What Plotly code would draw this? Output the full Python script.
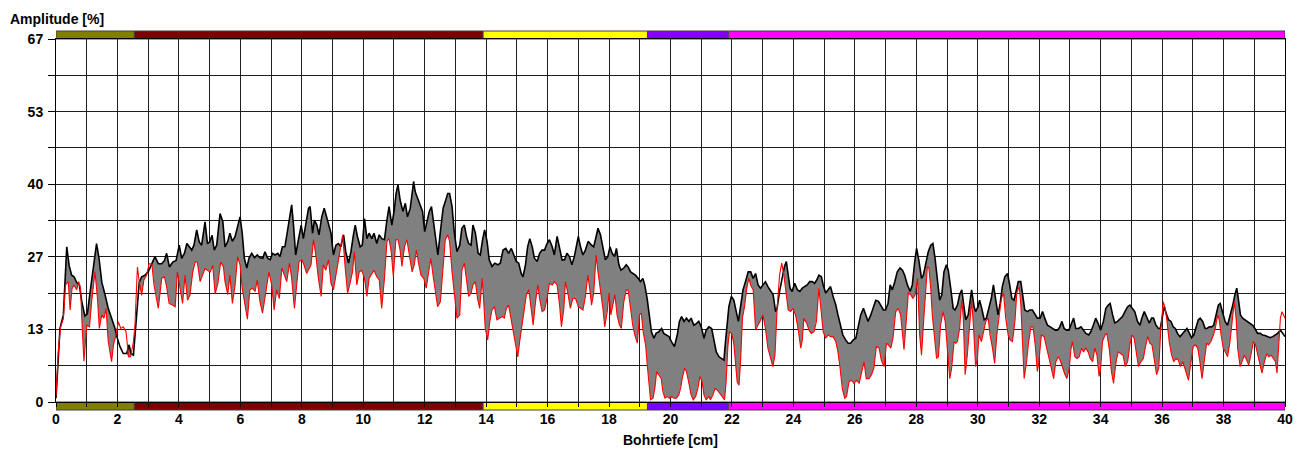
import numpy as np
import plotly.graph_objects as go

# ---------------- data ----------------
# upper curve (black)
black_x = [0, 0.13, 0.24, 0.29, 0.35, 0.43, 0.51, 0.59, 0.67, 0.76, 0.84, 0.94, 1.02, 1.11, 1.19, 1.27, 1.32, 1.40, 1.49, 1.60, 1.70, 1.81, 1.92, 1.98, 2.08, 2.19, 2.30, 2.38, 2.44, 2.52, 2.58, 2.65, 2.71, 2.79, 2.90, 3.01, 3.12, 3.22, 3.33, 3.44, 3.53, 3.60, 3.69, 3.80, 3.91, 4.01, 4.09, 4.18, 4.26, 4.34, 4.42, 4.49, 4.58, 4.66, 4.74, 4.85, 4.93, 5.0, 5.08, 5.15, 5.23, 5.34, 5.43,
           5.50, 5.59, 5.66, 5.74, 5.83, 5.91, 5.99, 6.06, 6.13, 6.21, 6.28, 6.37, 6.46, 6.55, 6.64, 6.73, 6.80, 6.89, 6.97, 7.05, 7.13, 7.22, 7.29, 7.37, 7.45, 7.54, 7.62, 7.67, 7.73, 7.80, 7.89, 7.98, 8.05, 8.13, 8.22, 8.27, 8.35, 8.41, 8.49, 8.56, 8.65, 8.73, 8.79, 8.87, 8.95, 9.03, 9.11, 9.19, 9.27, 9.36, 9.43, 9.52, 9.60, 9.68, 9.74, 9.81, 9.90, 9.97, 10.04, 10.12, 10.19, 10.28, 10.35, 10.44, 10.52, 10.60, 10.69, 10.77, 10.84, 10.93, 11.01, 11.07, 11.13,
           11.2, 11.29, 11.37, 11.44, 11.53, 11.58, 11.64, 11.69, 11.77, 11.86, 11.93, 12.0, 12.07, 12.15, 12.22, 12.29, 12.37, 12.43, 12.51, 12.6, 12.67, 12.75, 12.81, 12.89, 12.96, 13.05, 13.14, 13.21, 13.29, 13.36, 13.43, 13.51, 13.57, 13.65, 13.74, 13.81, 13.89, 13.95, 14.03, 14.1, 14.19, 14.28, 14.38, 14.46, 14.55, 14.64, 14.73, 14.82, 14.9, 14.98, 15.06, 15.14, 15.2, 15.28, 15.35, 15.42, 15.5, 15.57, 15.66, 15.74, 15.82, 15.9, 15.98, 16.06, 16.15, 16.22, 16.31, 16.39, 16.47, 16.55, 16.63, 16.71, 16.79, 16.87,
           16.95, 17.0, 17.07, 17.15, 17.23, 17.32, 17.43, 17.5, 17.58, 17.64, 17.72, 17.8, 17.88, 17.96, 18.03, 18.1, 18.18, 18.24, 18.32, 18.39, 18.48, 18.56, 18.62, 18.7, 18.79, 18.86, 18.95, 19.02, 19.1, 19.16, 19.24, 19.32, 19.38, 19.46, 19.53, 19.62, 19.71, 19.78, 19.86, 19.95, 20.03, 20.13, 20.22, 20.29, 20.36, 20.44, 20.52, 20.6, 20.67, 20.76, 20.84, 20.92, 21.0, 21.09, 21.16, 21.25, 21.34, 21.41, 21.49, 21.58, 21.66, 21.74, 21.79, 21.85, 21.9, 21.98, 22.06, 22.14, 22.21, 22.28, 22.36, 22.44, 22.53,
           22.61, 22.69, 22.77, 22.85, 22.93, 23.02, 23.09, 23.17, 23.26, 23.34, 23.42, 23.47, 23.55, 23.64, 23.71, 23.77, 23.82, 23.89, 23.96, 24.04, 24.13, 24.21, 24.29, 24.37, 24.45, 24.53, 24.61, 24.69, 24.76, 24.83, 24.91, 24.97, 25.05, 25.13, 25.21, 25.29, 25.38, 25.45, 25.54, 25.61, 25.7, 25.78, 25.86, 25.95, 26.03, 26.1, 26.19, 26.28, 26.35, 26.43, 26.52, 26.6, 26.68, 26.77, 26.84, 26.93, 27.0, 27.08, 27.15, 27.22, 27.3, 27.38, 27.47, 27.55, 27.62, 27.71, 27.8, 27.87, 27.95, 28.01, 28.09, 28.17, 28.23,
           28.31, 28.39, 28.47, 28.54, 28.61, 28.69, 28.76, 28.83, 28.9, 28.98, 29.04, 29.12, 29.2, 29.26, 29.34, 29.41, 29.48, 29.53, 29.61, 29.69, 29.75, 29.8, 29.88, 29.93, 30.01, 30.06, 30.13, 30.21, 30.28, 30.37, 30.44, 30.51, 30.59, 30.66, 30.73, 30.8, 30.88, 30.97, 31.04, 31.11, 31.18, 31.26, 31.32, 31.4, 31.46, 31.53, 31.62, 31.69, 31.78, 31.87, 31.94, 32.03, 32.11, 32.18, 32.27, 32.36, 32.43, 32.52, 32.6, 32.67, 32.74, 32.81, 32.89, 32.97, 33.05, 33.12, 33.19, 33.28, 33.36, 33.43, 33.52, 33.61, 33.68, 33.76, 33.84, 33.92,
           34.0, 34.09, 34.17, 34.25, 34.31, 34.39, 34.46, 34.55, 34.64, 34.71, 34.79, 34.88, 34.95, 35.04, 35.11, 35.2, 35.28, 35.34, 35.42, 35.49, 35.58, 35.66, 35.72, 35.8, 35.88, 35.94, 36.02, 36.07, 36.15, 36.21, 36.29, 36.36, 36.43, 36.5, 36.58, 36.67, 36.74, 36.81, 36.89, 36.96, 37.03, 37.1, 37.18, 37.24, 37.32, 37.4, 37.46, 37.54, 37.61, 37.68, 37.75, 37.83, 37.89, 37.97, 38.05, 38.13, 38.22, 38.3, 38.37, 38.43, 38.48, 38.55, 38.62, 38.7, 38.79, 38.86, 38.95, 39.02, 39.11, 39.2, 39.27, 39.35, 39.44, 39.52, 39.6, 39.68, 39.76, 39.85, 39.93, 40.0]
black_y = [0.7, 13.5, 16, 21.5, 28.5, 25, 23.3, 23, 22, 21.5, 18.4, 15.8, 16.2, 20.2, 24, 27, 29.1, 26.4, 22, 19.6, 17.2, 15.4, 13.5, 12.0, 10.2, 8.9, 8.9, 10.5, 8.9, 8.6, 12.9, 18.4, 22, 23, 23.3, 24, 25.4, 26.7, 25.4, 25.4, 26, 27.3, 24.8, 25.7, 26, 28.8, 26.4, 27.3, 29.1, 28.5, 27.9, 28.8, 31.6, 29.4, 28.8, 33.1, 29.1, 29.4, 30.6, 27.9, 28.8, 34.6, 33.1,
           28.5, 29.5, 31, 29.5, 30.4, 32.2, 34, 31, 26.4, 24.6, 26.4, 27.3, 26.5, 27, 26.5, 26.4, 27.6, 26.4, 26.1, 27.3, 27, 27.3, 26.7, 28.5, 28.5, 31.6, 35, 36.2, 32.5, 27, 29.8, 32.5, 30, 32.8, 35.6, 35.9, 31, 33.4, 32.5, 30.7, 34, 35.6, 34.4, 32.5, 31, 27, 28.8, 29.1, 28.5, 30.7, 27.6, 25.5, 27.6, 30.7, 32.5, 30.4, 28.5, 28.8, 33.7, 30, 31, 30, 31, 29.1, 30.7, 30, 29.8, 33.4, 35.9, 32.5, 35.3, 38.3, 39.9,
           37.1, 35, 36.5, 34, 35.6, 38, 40.5, 38.6, 37.4, 36.2, 35, 31.3, 33.1, 35, 35.9, 33.1, 29.5, 27, 31.3, 35.6, 36.8, 38.3, 38.3, 35.9, 31.3, 27.6, 28.8, 31.9, 32.5, 30.4, 29.1, 28.8, 32.5, 31, 27.3, 27, 30, 31.6, 29.5, 26.1, 24.9, 25.5, 25.2, 25.5, 27.9, 28.2, 27.3, 28.2, 27, 25.8, 25.5, 23.6, 23, 25.2, 28.5, 30, 28.5, 26.4, 25.8, 27.3, 27.9, 27.9, 29.1, 29.8, 28.5, 27, 30.4, 28.5, 26.1, 26.1, 27.3, 26.7, 25.2, 26.7,
           29.5, 30.4, 28.5, 27, 27.9, 29.5, 28.8, 28.5, 30.4, 31.9, 30.7, 28.5, 26.1, 26.7, 28.5, 27.3, 26.7, 28.2, 25.2, 24.2, 24.6, 25.2, 24.8, 23.9, 23.6, 23.3, 22.7, 22.1, 22.7, 21.5, 19, 16, 12.9, 11.7, 12.6, 12.9, 13.5, 12.6, 12.3, 12, 11.1, 10.2, 12.3, 14.8, 15.7, 14.8, 15.4, 14.8, 15.4, 14.1, 14.4, 14.8, 13.8, 11.7, 13.2, 13.8, 13.5, 11.1, 9.2, 8.3, 8, 7.7, 11.1, 14.8, 17.5, 19.4, 18.7, 16.6, 14.8, 17.5, 20.6, 22.1, 23.9,
           23.9, 22.7, 23.6, 21.5, 20.9, 21.5, 22.1, 21.2, 20.3, 19.7, 16.6, 17.2, 20.3, 23.3, 24.9, 25.8, 23.3, 20.9, 20.3, 21.8, 20.6, 20.3, 20.9, 21.2, 21.5, 22.1, 22.1, 21.8, 22.4, 23.3, 23, 21.5, 20, 20.6, 21.2, 19.4, 17.8, 16, 14.1, 12.3, 11.4, 10.8, 10.8, 11.4, 11.7, 13.5, 16, 17.2, 16, 14.8, 16, 17.5, 18.7, 18.5, 17.8, 16.9, 16.9, 18.1, 21.5, 20.6, 22.1, 23.9, 24.6, 24.2, 23.3, 21.5, 20.3, 21.5, 25.8, 28.2, 25.8, 22.7, 23.3,
           25.2, 27.6, 28.8, 29.1, 26.4, 22.1, 18.7, 19.7, 23.9, 25.2, 24.2, 20.9, 17.2, 16.9, 17.8, 19.7, 20.6, 18.4, 15.1, 16, 19, 20.6, 17.5, 16.6, 17.5, 18.7, 17.2, 15.1, 15.4, 17.2, 19, 21.5, 18.7, 16, 18.1, 21.2, 23, 23.6, 21.5, 19, 18.7, 20.9, 22.1, 22.1, 19.7, 16.9, 16.6, 16.9, 16.9, 16, 15.4, 15.4, 16.6, 15.4, 14.1, 13.8, 13.5, 13.2, 13.2, 13.8, 14.8, 13.5, 13.2, 13.2, 14.4, 15.4, 13.5, 13.5, 13.8, 13.2, 12.6, 12.3, 12.9, 14.1, 15.4, 14.4,
           13.2, 14.8, 17.2, 17.8, 18.1, 16, 14.5, 14.8, 15.4, 15.7, 16.6, 17.5, 17.8, 17.2, 16.6, 14.8, 14.1, 15.4, 16.6, 15.7, 14.5, 15.4, 15.4, 14.1, 13.5, 13.5, 16.5, 17.5, 16, 15.1, 14.8, 13.8, 13.5, 12.6, 12, 12.6, 13.2, 13.5, 12.6, 11.8, 12.3, 13.8, 15.1, 15.4, 14.8, 13.5, 13.5, 13.8, 13.8, 14.1, 16, 17.8, 18.1, 16.6, 14.8, 14.1, 16, 17.8, 19.7, 20.9, 19, 16, 15.4, 15.1, 14.8, 14.5, 14.1, 13.5, 12.6, 12.6, 12.3, 12.2, 12, 11.8, 12, 12.3, 12.6, 13.2, 12.6, 12]

# lower curve (red)
red_x = [0, 0.08, 0.15, 0.24, 0.31, 0.40, 0.46, 0.52, 0.59, 0.67, 0.74, 0.80, 0.86, 0.91, 1.0, 1.09, 1.16, 1.27, 1.35, 1.41, 1.49, 1.56, 1.63, 1.70, 1.81, 1.87, 1.95, 2.03, 2.11, 2.19, 2.28, 2.36, 2.43, 2.52, 2.57, 2.65, 2.71, 2.79, 2.86, 2.95, 3.03, 3.12, 3.19, 3.26, 3.33, 3.44, 3.53, 3.60, 3.68, 3.79, 3.88, 3.95, 4.04, 4.12, 4.20, 4.28, 4.36, 4.45, 4.53, 4.60, 4.69, 4.78, 4.85, 4.93, 5.02, 5.10, 5.18, 5.27, 5.36, 5.45,
         5.50, 5.59, 5.66, 5.74, 5.83, 5.91, 5.99, 6.06, 6.15, 6.23, 6.31, 6.39, 6.48, 6.55, 6.64, 6.72, 6.78, 6.86, 6.93, 7.02, 7.10, 7.18, 7.27, 7.35, 7.43, 7.51, 7.60, 7.67, 7.76, 7.84, 7.91, 8.00, 8.07, 8.16, 8.24, 8.30, 8.38, 8.45, 8.54, 8.63, 8.70, 8.78, 8.87, 8.95, 9.03, 9.11, 9.19, 9.27, 9.33, 9.41, 9.49, 9.57, 9.65, 9.71, 9.79, 9.87, 9.95, 10.04, 10.12, 10.19, 10.28, 10.35, 10.44, 10.52, 10.60, 10.69, 10.77, 10.84, 10.91, 10.98, 11.06, 11.13,
         11.2, 11.26, 11.34, 11.42, 11.5, 11.59, 11.66, 11.73, 11.8, 11.88, 11.97, 12.05, 12.13, 12.2, 12.27, 12.35, 12.42, 12.51, 12.6, 12.67, 12.75, 12.81, 12.89, 12.96, 13.05, 13.14, 13.21, 13.29, 13.36, 13.43, 13.51, 13.57, 13.65, 13.72, 13.79, 13.87, 13.92, 13.97, 14.05, 14.12, 14.19, 14.27, 14.35, 14.43, 14.52, 14.59, 14.66, 14.73, 14.82, 14.9, 14.97, 15.03, 15.09, 15.17, 15.25, 15.31, 15.39, 15.46, 15.53, 15.6, 15.68, 15.74, 15.82, 15.9, 15.98, 16.06, 16.15, 16.22, 16.31, 16.39, 16.45, 16.53, 16.58, 16.66, 16.74, 16.82,
         16.91, 17.0, 17.07, 17.15, 17.23, 17.31, 17.37, 17.43, 17.5, 17.58, 17.64, 17.72, 17.8, 17.86, 17.94, 18.0, 18.06, 18.12, 18.19, 18.26, 18.34, 18.4, 18.48, 18.56, 18.62, 18.7, 18.77, 18.84, 18.92, 18.99, 19.05, 19.11, 19.19, 19.24, 19.3, 19.35, 19.43, 19.49, 19.55, 19.62, 19.7, 19.75, 19.82, 19.89, 19.97, 20.03, 20.11, 20.19, 20.27, 20.33, 20.38, 20.46, 20.52, 20.6, 20.67, 20.74, 20.82, 20.89, 20.96, 21.03, 21.09, 21.16, 21.25, 21.3, 21.38, 21.45, 21.52, 21.6, 21.68, 21.76, 21.81, 21.87, 21.92, 21.99, 22.06, 22.12, 22.17, 22.23, 22.28, 22.34, 22.41, 22.48, 22.55,
         22.61, 22.69, 22.77, 22.85, 22.93, 23.01, 23.09, 23.17, 23.26, 23.33, 23.4, 23.47, 23.55, 23.62, 23.69, 23.77, 23.83, 23.91, 23.98, 24.07, 24.15, 24.24, 24.29, 24.34, 24.43, 24.51, 24.58, 24.67, 24.75, 24.83, 24.91, 24.97, 25.05, 25.13, 25.21, 25.29, 25.38, 25.45, 25.52, 25.59, 25.67, 25.73, 25.81, 25.89, 25.97, 26.06, 26.14, 26.21, 26.3, 26.37, 26.46, 26.54, 26.62, 26.7, 26.79, 26.86, 26.95, 27.03, 27.09, 27.17, 27.24, 27.33, 27.41, 27.49, 27.55, 27.6, 27.68, 27.74, 27.82, 27.89, 27.96, 28.04, 28.11, 28.17, 28.23,
         28.31, 28.36, 28.41, 28.47, 28.52, 28.6, 28.66, 28.72, 28.79, 28.87, 28.94, 29.01, 29.09, 29.15, 29.23, 29.28, 29.34, 29.41, 29.48, 29.53, 29.59, 29.66, 29.74, 29.8, 29.86, 29.93, 29.99, 30.04, 30.12, 30.18, 30.26, 30.34, 30.4, 30.48, 30.55, 30.62, 30.69, 30.77, 30.84, 30.91, 30.99, 31.05, 31.13, 31.21, 31.27, 31.35, 31.4, 31.46, 31.51, 31.59, 31.65, 31.73, 31.8, 31.87, 31.94, 31.99, 32.07, 32.16, 32.24, 32.32, 32.4, 32.47, 32.54, 32.62, 32.68, 32.76, 32.84, 32.9, 32.98, 33.03, 33.08, 33.16, 33.23, 33.3, 33.38, 33.44, 33.52, 33.59, 33.66, 33.74, 33.81, 33.88, 33.95,
         34.0, 34.06, 34.14, 34.2, 34.28, 34.35, 34.42, 34.5, 34.57, 34.66, 34.73, 34.8, 34.88, 34.95, 35.02, 35.09, 35.17, 35.23, 35.31, 35.39, 35.45, 35.53, 35.6, 35.67, 35.74, 35.82, 35.89, 35.96, 36.04, 36.1, 36.16, 36.23, 36.31, 36.38, 36.45, 36.53, 36.59, 36.67, 36.74, 36.81, 36.86, 36.94, 37.01, 37.08, 37.16, 37.23, 37.3, 37.37, 37.45, 37.51, 37.59, 37.67, 37.73, 37.81, 37.86, 37.92, 37.99, 38.06, 38.13, 38.21, 38.28, 38.35, 38.41, 38.46, 38.54, 38.6, 38.68, 38.75, 38.82, 38.89, 38.97, 39.04, 39.11, 39.19, 39.25, 39.33, 39.41, 39.47, 39.55, 39.62, 39.69, 39.74, 39.8, 39.85, 39.9, 39.96, 40.0]
red_y = [1, 9.8, 13.8, 15.3, 21.5, 22.1, 16.9, 20.8, 21.5, 20.6, 22.1, 20.8, 12.9, 7.5, 14.1, 13.8, 18.4, 23.9, 19, 13.5, 16, 15.4, 17.2, 11.1, 7.4, 10.5, 12.3, 14.7, 13.5, 13.8, 12.9, 8.3, 8.3, 11.1, 14.1, 24.8, 22.1, 19.6, 22.4, 23.3, 25.4, 25.3, 21.5, 19.6, 17.2, 22.7, 23, 21.2, 18.1, 17.8, 17.5, 23.9, 21.2, 18.1, 23.3, 18.7, 19.6, 23.9, 25.7, 25.7, 22.1, 23.6, 24.5, 24.2, 23.9, 25.1, 19.9, 21.8, 25.7, 24.8,
         22.1, 19.7, 23.3, 18.1, 21.5, 26.7, 25.2, 20.9, 17.8, 15.2, 20.6, 20.9, 20.3, 22.4, 18.4, 16.3, 18.4, 21.5, 23.9, 21.5, 16.9, 20.6, 19, 24.6, 23.3, 22.1, 25.5, 22.7, 17.2, 22.1, 25.8, 26.1, 25.2, 23.6, 24.6, 25.2, 29.8, 27.3, 22.7, 19.4, 25.2, 24.2, 26.1, 21.8, 20.6, 23.3, 26.1, 28.2, 30.7, 24.8, 20, 21.8, 23.9, 27.6, 21.5, 23.9, 24.2, 22.7, 19.4, 22.7, 23.6, 24.2, 23, 22.4, 17.2, 22.7, 29.5, 30, 27.6, 23, 29.8, 29.8,
         27.9, 24.9, 28.5, 29.8, 27, 23.9, 25.2, 27.9, 25.5, 23.3, 22.7, 20.9, 23.9, 26.4, 23.3, 20.3, 17.5, 18.4, 24.9, 29.8, 30.7, 29.5, 23.9, 19.7, 15.4, 16, 24.2, 25.5, 22.1, 19.4, 20, 21.5, 22.1, 19, 17.2, 22.7, 18.7, 13.5, 11.4, 14.8, 16.9, 17.5, 15.1, 15.4, 15.7, 15.4, 17.2, 17.8, 14.8, 12.3, 9.9, 8.3, 11.1, 14.1, 17.2, 19.7, 20.6, 17.2, 14.1, 18.1, 21.5, 19, 16.6, 16.9, 19, 21.8, 21.5, 22.1, 21.5, 17.8, 13.8, 17.2, 22.1, 20, 17.2, 19,
         19, 17.5, 17.2, 16.9, 19.4, 23.3, 20.9, 17.8, 20, 27, 23.9, 20.9, 17.2, 13.8, 16.6, 20, 16, 17.8, 19.7, 16, 14.1, 13.5, 18.4, 20.6, 20.6, 17.2, 14.1, 12.3, 10.8, 16, 16.3, 12.9, 10.5, 7, 2.5, 0.4, 0.7, 2.5, 5.6, 5, 4.3, 1.9, 0.7, 1, 0.7, 1, 0.7, 0.7, 1.3, 2.5, 4.3, 6.2, 5.6, 3.4, 1.3, 0.4, 1, 2.5, 4.7, 3.7, 1.3, 0.4, 1, 0.4, 1.3, 2.5, 2.2, 1.6, 1, 0.4, 3.7, 10.5, 12.9, 12.6, 10.8, 6.8, 3.7, 3.1, 7.4, 15.4, 17.5, 20.9, 22.7,
         21.5, 20.6, 13.2, 14.1, 14.8, 16, 13.5, 9.9, 8, 6.5, 8.6, 17.2, 23.3, 25.5, 23.3, 19, 16.9, 16.6, 17.2, 16, 13.5, 9.9, 11.4, 15.4, 14.5, 13.2, 12.6, 12.9, 14.8, 20.9, 16.6, 12.9, 11.7, 12.3, 12, 12, 11.1, 9.2, 6.2, 2.5, 0.7, 1, 3.7, 4, 3.4, 4, 3.4, 5, 7.4, 4.3, 4.3, 5, 6.2, 10.2, 9.9, 7.7, 6.5, 10.8, 10.5, 9.9, 11.7, 16.6, 17.2, 16, 12.9, 9.6, 15.4, 20, 19.7, 19, 19.7, 22.7, 12.3, 8.6, 14.1,
         21.5, 24.9, 24.6, 20.9, 16, 11.7, 8, 8.3, 14.1, 16.6, 14.8, 9.9, 4.3, 6.2, 11.1, 10.8, 11.1, 13.5, 18.7, 15.4, 5, 8.6, 14.1, 18.7, 14.1, 6.5, 8, 12.3, 11.1, 12.9, 14.8, 15.4, 12.3, 9.9, 7.1, 12.3, 16, 19, 20, 15.4, 12.3, 11.4, 11.1, 14.8, 20, 21.2, 18.1, 11.7, 4.3, 7.4, 10.8, 13.8, 13.8, 10.5, 5.6, 7.4, 12.3, 12, 9.9, 8, 5.6, 4.3, 7.4, 8.3, 7.7, 6.2, 5, 4.3, 6.2, 9.6, 11.1, 8.3, 8, 8.3, 9.9, 9.2, 9.9, 9.2, 8, 7.4, 9.9, 8.6, 4.7,
         6.2, 11.1, 12.3, 12.6, 9.9, 5.6, 3.4, 7.4, 9.2, 8.9, 8.6, 6.5, 7.4, 10.5, 12.3, 11.7, 8.6, 6.5, 7.4, 8, 9.9, 12, 10.8, 10.5, 8, 5, 6.2, 13.5, 18.4, 17.2, 14.8, 11.1, 8.6, 7.4, 8, 7.7, 6.5, 7.4, 6.2, 5, 4, 7.4, 10.2, 10.5, 9.9, 7.4, 4.3, 7.4, 10.8, 10.5, 11.1, 12.3, 13.5, 16, 15.1, 12.3, 9.9, 9.2, 8.3, 11.1, 15.4, 18.4, 15.4, 9.9, 6.5, 7.4, 8.6, 7.7, 6.8, 8.6, 11.1, 10.5, 8.6, 6.8, 5.3, 7.4, 8.9, 8.3, 8.6, 8, 7.4, 5.3, 11.1, 15.4, 16.6, 16, 15.4]

# layer bands (start, end, colour)
band_start = [0, 2.55, 13.9, 19.25, 21.88]
band_end = [2.55, 13.9, 19.25, 21.88, 40]
band_color = ["#808000", "#800000", "#FFFF00", "#8000FF", "#FF00FF"]

y_max = 200 / 3
y_tickvals = [i * y_max / 10 for i in range(11)]
y_ticktext = ["0", "", "13", "", "27", "", "40", "", "53", "", "67"]
x_tickvals = list(range(0, 41))
x_ticktext = [str(v) if v % 2 == 0 else "" for v in x_tickvals]

# ---------------- figure ----------------
# the page body has an 8 px default margin, so the figure is sized to fit
W, H = 1297, 445
ML, MR, MT, MB = 48, 20, 31, 51
plot_h = H - MT - MB
plot_w = W - ML - MR

# fill between curves only where upper > lower
grid = np.union1d(np.array(black_x), np.array(red_x))
b_i = np.interp(grid, black_x, black_y)
r_i = np.interp(grid, red_x, red_y)
low = np.minimum(b_i, r_i)

fig = go.Figure()
fig.add_trace(go.Scatter(x=grid, y=low, mode="lines", line=dict(width=0),
                         hoverinfo="skip", showlegend=False))
fig.add_trace(go.Scatter(x=grid, y=b_i, mode="lines", line=dict(width=0),
                         fill="tonexty", fillcolor="#808080",
                         hoverinfo="skip", showlegend=False))
fig.add_trace(go.Scatter(x=black_x, y=black_y, mode="lines",
                         line=dict(color="black", width=1.6), showlegend=False))
fig.add_trace(go.Scatter(x=red_x, y=red_y, mode="lines",
                         line=dict(color="#FF0000", width=1.1), showlegend=False))

band_h = 8 / plot_h
shapes = []
for s, e, c in zip(band_start, band_end, band_color):
    for y0, y1 in ((1.0, 1.0 + band_h), (-band_h, 0.0)):
        shapes.append(dict(type="rect", xref="x", yref="paper", x0=s, x1=e,
                           y0=y0, y1=y1, fillcolor=c,
                           line=dict(color="#404040", width=1), layer="below"))

font_b = dict(family="Liberation Sans, Arial, sans-serif", size=14,
              color="black", weight="bold")

fig.update_layout(
    width=W, height=H,
    margin=dict(l=ML, r=MR, t=MT, b=MB, pad=0, autoexpand=False),
    plot_bgcolor="white", paper_bgcolor="white",
    showlegend=False,
    shapes=shapes,
    xaxis=dict(range=[0, 40], tickvals=x_tickvals, ticktext=x_ticktext,
               showgrid=True, gridcolor="#1e1e1e", gridwidth=1,
               zeroline=False, showline=True, linecolor="black", linewidth=1,
               mirror=True, ticks="outside", ticklen=4, tickcolor="black",
               tickfont=font_b, ticklabelstandoff=0, automargin=False),
    yaxis=dict(range=[0, y_max], tickvals=y_tickvals, ticktext=y_ticktext,
               showgrid=True, gridcolor="#1e1e1e", gridwidth=1,
               zeroline=False, showline=True, linecolor="black", linewidth=1,
               mirror=True, ticks="outside", ticklen=7, tickcolor="black",
               tickfont=font_b, ticklabelstandoff=2, automargin=False),
    annotations=[
        dict(text="Amplitude [%]", xref="paper", yref="paper",
             x=-48 / plot_w, y=1 + 20 / plot_h, xanchor="left",
             yanchor="middle", showarrow=False, font=font_b),
        dict(text="Bohrtiefe [cm]", xref="paper", yref="paper",
             x=0.5, y=-38 / plot_h, xanchor="center", yanchor="middle",
             showarrow=False, font=font_b),
    ],
)

fig.write_html("out.html")
